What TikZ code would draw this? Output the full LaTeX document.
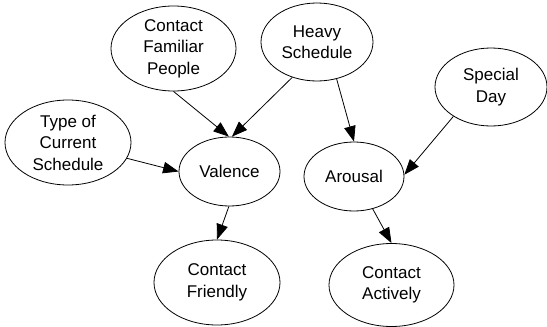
\documentclass[tikz,border=0pt]{standalone}
\usepackage{fontspec}
\setmainfont{Liberation Sans}
\usetikzlibrary{shapes.geometric,arrows.meta}
\begin{document}
\begin{tikzpicture}[x=1pt,y=-1pt,
  ell/.style args={#1x#2}{ellipse, draw, line width=0.8pt, inner sep=0pt,
    minimum width=#1pt, minimum height=#2pt, align=center,
    font=\fontsize{17}{21.5}\selectfont},
  edge/.style={line width=0.8pt, -{Triangle[length=15.5pt,width=11.5pt]}}]
\useasboundingbox (0,0) rectangle (547,327);
\node[ell=125x85] (cfp) at (173.5,48.5) {Contact\\Familiar\\People};
\node[ell=112x78] (hs) at (317,42) {Heavy\\Schedule};
\node[ell=112x78] (sd) at (491,87) {Special\\Day};
\node[ell=126x85] (tcs) at (68,142.5) {Type of\\Current\\Schedule};
\node[ell=101x69] (val) at (229.5,171.5) {Valence};
\node[ell=100x69] (aro) at (354,176.5) {Arousal};
\node[ell=126x85] (cf) at (217,282.5) {Contact\\Friendly};
\node[ell=125x83] (ca) at (391.5,285) {Contact\\Actively};
\draw[edge] (cfp.-90) -- (val.91);
\draw[edge] (hs.-125) -- (val.86);
\draw[edge] (hs.-62) -- (aro.90);
\draw[edge] (sd.-142) -- (aro.2);
\draw[edge] (tcs.-15) -- (val.180);
\draw[edge] (val.-91) -- (cf.90);
\draw[edge] (aro.-60) -- (ca.90);
\end{tikzpicture}
\end{document}
